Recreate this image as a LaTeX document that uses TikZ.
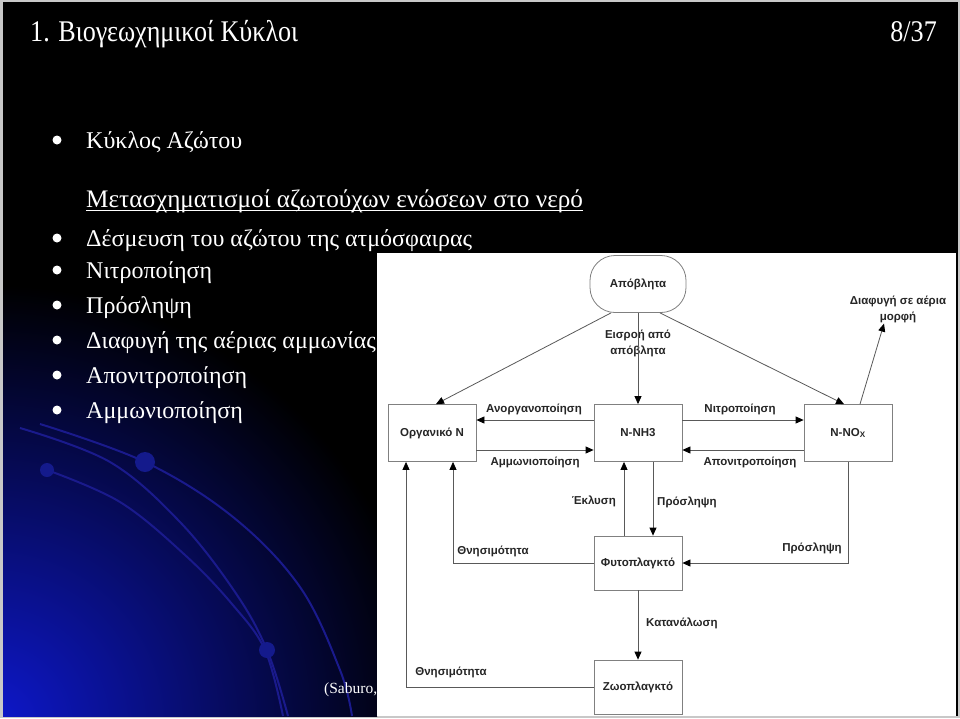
\documentclass[tikz,border=0pt]{standalone}
\usepackage{fontspec}
\usepackage{graphicx}
\setmainfont{Liberation Serif}
\newfontfamily\dfont{Liberation Sans}
\usetikzlibrary{arrows.meta}
\definecolor{slideblue}{RGB}{14,24,205}
\definecolor{arcblue}{RGB}{26,26,140}
\definecolor{dotblue}{RGB}{20,26,140}
\definecolor{edgegray}{RGB}{200,200,200}
\begin{document}
\begin{tikzpicture}[x=1pt,y=-1pt,
  slidetext/.style={text=white, font=\fontsize{24}{28}\selectfont, inner sep=0pt, anchor=base west},
  box/.style={draw=black!50, line width=0.8pt, fill=white, minimum width=88pt, minimum height=57pt,
    font=\dfont\bfseries\fontsize{11.5}{14}\selectfont, text=black!85, inner sep=0pt},
  lbl/.style={font=\dfont\bfseries\fontsize{11.5}{16}\selectfont, text=black!85, inner sep=1pt},
  conn/.style={draw=black!65, line width=0.8pt},
  arr/.style={conn, -{Triangle[length=8pt,width=7pt,color=black]}}
]
\useasboundingbox (0,0) rectangle (960,718);
% slide background
\fill[edgegray] (0,0) rectangle (960,718);
\fill[black] (3,1.5) rectangle (957.5,716);
\begin{scope}
  \clip (3,1.5) rectangle (377,716);
  \shade[inner color=slideblue, outer color=black] (-10,725) circle (440);
  \draw[arcblue, line width=2pt] plot[smooth, tension=0.6] coordinates {(40,424) (145,462) (233,517) (300,587) (340,670) (352,716)};
  \draw[arcblue, line width=2pt] plot[smooth, tension=0.6] coordinates {(20,428) (110,462) (180,522) (235,592) (267,650) (288,716)};
  \draw[arcblue, line width=2pt] plot[smooth, tension=0.6] coordinates {(47,470) (120,502) (185,555) (232,604) (265,650) (283,716)};
  \fill[dotblue] (145,462) circle (10);
  \fill[dotblue] (47,470) circle (7);
  \fill[dotblue] (267,650) circle (8);
\end{scope}
% title
\node[anchor=base west, text=white, inner sep=0pt, font=\fontsize{30}{34}\selectfont] (title) at (30,41) {\scalebox{0.87}[1]{1. Βιογεωχημικοί Κύκλοι}};
\node[anchor=base east, text=white, inner sep=0pt, font=\fontsize{30}{34}\selectfont] (page) at (937,41) {\scalebox{0.87}[1]{8/37}};
% bullet list
\fill[white] (57,140) circle (4.5);
\node[slidetext] (t1) at (86,148) {Κύκλος Αζώτου};
\node[slidetext, font=\fontsize{25.2}{28}\selectfont] (t2) at (86,207) {Μετασχηματισμοί αζωτούχων ενώσεων στο νερό};
\draw[white, line width=1pt] ([yshift=-3pt]t2.base west) -- ([yshift=-3pt]t2.base east);
\fill[white] (57,238) circle (4.5);
\node[slidetext] (t3) at (86,246) {Δέσμευση του αζώτου της ατμόσφαιρας};
\fill[white] (57,270) circle (4.5);
\node[slidetext] (t4) at (86,278) {Νιτροποίηση};
\fill[white] (57,305) circle (4.5);
\node[slidetext] (t5) at (86,313) {Πρόσληψη};
\fill[white] (57,340) circle (4.5);
\node[slidetext] (t6) at (86,348) {Διαφυγή της αέριας αμμωνίας};
\fill[white] (57,375) circle (4.5);
\node[slidetext] (t7) at (86,383) {Απονιτροποίηση};
\fill[white] (57,410) circle (4.5);
\node[slidetext] (t8) at (86,418) {Αμμωνιοποίηση};
\node[anchor=base west, text=white, inner sep=0pt, font=\fontsize{15.5}{18}\selectfont] (src) at (324,693) {(Saburo,};
% white panel
\fill[white] (377,253) rectangle (956,716);
% diagram nodes
\node[box, rounded corners=25pt, minimum width=96pt] (apob) at (638,284) {Απόβλητα};
\node[box] (org) at (432,433) {Οργανικό Ν};
\node[box] (nh3) at (638,433) {N-NH3};
\node[box] (nox) at (848,433) {N-NO\textsubscript{X}};
\node[box, minimum height=54pt] (phyto) at (638,563) {Φυτοπλαγκτό};
\node[box, minimum height=54pt] (zoo) at (638,687) {Ζωοπλαγκτό};
% labels
\node[lbl] (lanorg) at (534,409) {Ανοργανοποίηση};
\node[lbl] (lamm) at (535,462) {Αμμωνιοποίηση};
\node[lbl] (lnitr) at (740,409) {Νιτροποίηση};
\node[lbl] (lapon) at (750,462) {Απονιτροποίηση};
\node[lbl, align=center] (leisr) at (638,343) {Εισροή από\\απόβλητα};
\node[lbl, align=center] (ldiaf) at (898,309) {Διαφυγή σε αέρια\\μορφή};
\node[lbl, anchor=east] (lekl) at (617,501) {Έκλυση};
\node[lbl, anchor=west] (lpros1) at (656,502) {Πρόσληψη};
\node[lbl] (lthn1) at (493,551) {Θνησιμότητα};
\node[lbl] (lpros2) at (812,548) {Πρόσληψη};
\node[lbl, anchor=west] (lkat) at (645,623) {Κατανάλωση};
\node[lbl] (lthn2) at (451,672) {Θνησιμότητα};
% connectors
\draw[arr] ([xshift=-27pt]apob.south) -- ([xshift=4pt]org.north);
\draw[arr] (apob.south) -- (nh3.north);
\draw[arr] ([xshift=22pt]apob.south) -- ([xshift=-4pt]nox.north);
\draw[arr] ([xshift=12pt]nox.north) -- ([xshift=-14pt]ldiaf.south);
\draw[arr] ([yshift=13pt]nh3.west) -- ([yshift=13pt]org.east);
\draw[arr] ([yshift=-17pt]org.east) -- ([yshift=-17pt]nh3.west);
\draw[arr] ([yshift=13pt]nh3.east) -- ([yshift=13pt]nox.west);
\draw[arr] ([yshift=-17pt]nox.west) -- ([yshift=-17pt]nh3.east);
\draw[arr] ([xshift=-14pt]phyto.north) -- ([xshift=-14pt]nh3.south);
\draw[arr] ([xshift=15pt]nh3.south) -- ([xshift=15pt]phyto.north);
\draw[arr] (phyto.west) -| ([xshift=21pt]org.south);
\draw[arr] (nox.south) |- (phyto.east);
\draw[arr] (phyto.south) -- (zoo.north);
\draw[arr] (zoo.west) -| ([xshift=-26pt]org.south);
\end{tikzpicture}
\end{document}
